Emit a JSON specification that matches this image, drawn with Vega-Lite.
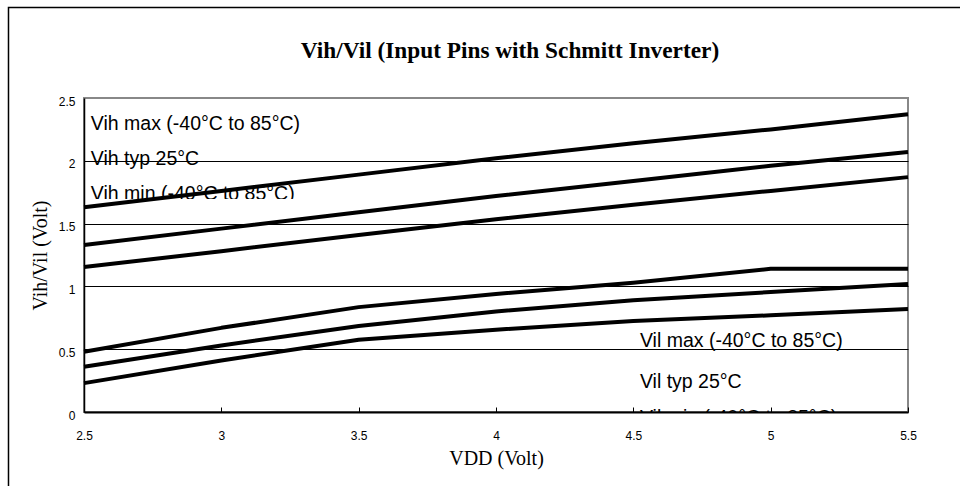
{
  "$schema": "https://vega.github.io/schema/vega-lite/v6.json",
  "autosize": "none",
  "width": 824,
  "height": 314,
  "padding": {"left": 84, "top": 98, "right": 52, "bottom": 74},
  "background": "white",
  "title": {
    "text": "Vih/Vil (Input Pins with Schmitt Inverter)",
    "font": "Liberation Serif",
    "fontSize": 23.3,
    "fontWeight": "bold",
    "color": "black",
    "anchor": "middle",
    "frame": "group",
    "baseline": "alphabetic",
    "dx": 14,
    "dy": 75,
    "offset": 0
  },
  "config": {"view": {"stroke": "#888888", "strokeWidth": 2}},
  "datasets": {
    "curves": [
      {"series": "Vih max", "vdd": 2.5, "v": 1.63},
      {"series": "Vih max", "vdd": 3.0, "v": 1.76},
      {"series": "Vih max", "vdd": 3.5, "v": 1.89},
      {"series": "Vih max", "vdd": 4.0, "v": 2.02},
      {"series": "Vih max", "vdd": 4.5, "v": 2.14},
      {"series": "Vih max", "vdd": 5.0, "v": 2.25},
      {"series": "Vih max", "vdd": 5.5, "v": 2.37},
      {"series": "Vih typ", "vdd": 2.5, "v": 1.33},
      {"series": "Vih typ", "vdd": 3.0, "v": 1.46},
      {"series": "Vih typ", "vdd": 3.5, "v": 1.59},
      {"series": "Vih typ", "vdd": 4.0, "v": 1.72},
      {"series": "Vih typ", "vdd": 4.5, "v": 1.84},
      {"series": "Vih typ", "vdd": 5.0, "v": 1.96},
      {"series": "Vih typ", "vdd": 5.5, "v": 2.07},
      {"series": "Vih min", "vdd": 2.5, "v": 1.155},
      {"series": "Vih min", "vdd": 3.0, "v": 1.28},
      {"series": "Vih min", "vdd": 3.5, "v": 1.41},
      {"series": "Vih min", "vdd": 4.0, "v": 1.535},
      {"series": "Vih min", "vdd": 4.5, "v": 1.65},
      {"series": "Vih min", "vdd": 5.0, "v": 1.76},
      {"series": "Vih min", "vdd": 5.5, "v": 1.87},
      {"series": "Vil max", "vdd": 2.5, "v": 0.48},
      {"series": "Vil max", "vdd": 3.0, "v": 0.67},
      {"series": "Vil max", "vdd": 3.5, "v": 0.835},
      {"series": "Vil max", "vdd": 4.0, "v": 0.94},
      {"series": "Vil max", "vdd": 4.5, "v": 1.03},
      {"series": "Vil max", "vdd": 5.0, "v": 1.14},
      {"series": "Vil max", "vdd": 5.5, "v": 1.14},
      {"series": "Vil typ", "vdd": 2.5, "v": 0.36},
      {"series": "Vil typ", "vdd": 3.0, "v": 0.53},
      {"series": "Vil typ", "vdd": 3.5, "v": 0.685},
      {"series": "Vil typ", "vdd": 4.0, "v": 0.8},
      {"series": "Vil typ", "vdd": 4.5, "v": 0.89},
      {"series": "Vil typ", "vdd": 5.0, "v": 0.955},
      {"series": "Vil typ", "vdd": 5.5, "v": 1.02},
      {"series": "Vil min", "vdd": 2.5, "v": 0.23},
      {"series": "Vil min", "vdd": 3.0, "v": 0.41},
      {"series": "Vil min", "vdd": 3.5, "v": 0.575},
      {"series": "Vil min", "vdd": 4.0, "v": 0.655},
      {"series": "Vil min", "vdd": 4.5, "v": 0.725},
      {"series": "Vil min", "vdd": 5.0, "v": 0.77},
      {"series": "Vil min", "vdd": 5.5, "v": 0.82}
    ],
    "labels": [
      {"label": "Vih max (-40°C to 85°C)", "vdd": 2.525, "v": 2.245},
      {"label": "Vih typ 25°C", "vdd": 2.525, "v": 1.967},
      {"label": "Vih min (-40°C to 85°C)", "vdd": 2.525, "v": 1.688},
      {"label": "Vil max (-40°C to 85°C)", "vdd": 4.524, "v": 0.517},
      {"label": "Vil typ 25°C", "vdd": 4.524, "v": 0.191},
      {"label": "Vil min (-40°C to 85°C)", "vdd": 4.524, "v": -0.0955}
    ],
    "one": [{}]
  },
  "layer": [
    {
      "data": {"name": "labels"},
      "mark": {"type": "text", "align": "left", "baseline": "alphabetic", "font": "Liberation Sans", "fontSize": 19.5, "color": "black", "clip": true},
      "encoding": {
        "x": {"field": "vdd", "type": "quantitative", "scale": {"domain": [2.5, 5.5], "nice": false, "zero": false}},
        "y": {"field": "v", "type": "quantitative", "scale": {"domain": [0, 2.5], "nice": false}},
        "text": {"field": "label"}
      }
    },
    {
      "data": {"name": "one"},
      "mark": {"type": "rect", "fill": "white", "strokeWidth": 0},
      "encoding": {
        "x": {"datum": 2.51, "type": "quantitative"},
        "x2": {"datum": 3.34},
        "y": {"datum": 1.696, "type": "quantitative"},
        "y2": {"datum": 1.6}
      }
    },
    {
      "data": {"name": "curves"},
      "mark": {"type": "line", "color": "black", "strokeWidth": 4, "strokeCap": "butt", "strokeJoin": "round"},
      "encoding": {
        "x": {
          "field": "vdd", "type": "quantitative",
          "scale": {"domain": [2.5, 5.5], "nice": false, "zero": false},
          "axis": {
            "title": "VDD (Volt)",
            "values": [2.5, 3, 3.5, 4, 4.5, 5, 5.5],
            "format": "~g",
            "grid": false,
            "domainColor": "black",
            "domainWidth": 2,
            "ticks": true,
            "tickColor": "black",
            "tickSize": -5,
            "tickWidth": 1,
            "labelFont": "Liberation Sans",
            "labelFontSize": 12,
            "labelColor": "black",
            "labelPadding": 23,
            "labelFlush": false,
            "titleFont": "Liberation Serif",
            "titleFontSize": 20,
            "titleFontWeight": "normal",
            "titleColor": "black",
            "titlePadding": 7
          }
        },
        "y": {
          "field": "v", "type": "quantitative",
          "scale": {"domain": [0, 2.5], "nice": false},
          "axis": {
            "title": "Vih/Vil (Volt)",
            "values": [0, 0.5, 1, 1.5, 2, 2.5],
            "format": "~g",
            "grid": true,
            "gridColor": {"condition": {"test": "datum.value == 2.5 || datum.value == 0", "value": "#888888"}, "value": "black"},
            "gridWidth": 1,
            "domainColor": "black",
            "domainWidth": 1.5,
            "ticks": false,
            "labelFont": "Liberation Sans",
            "labelFontSize": 12,
            "labelColor": "black",
            "labelPadding": 9,
            "labelOffset": 3,
            "labelFlush": false,
            "titleFont": "Liberation Serif",
            "titleFontSize": 20,
            "titleFontWeight": "normal",
            "titleColor": "black",
            "titlePadding": 8
          }
        },
        "detail": {"field": "series"}
      }
    },
    {
      "data": {"name": "one"},
      "mark": {"type": "rect", "filled": false, "stroke": "black", "strokeWidth": 1.5, "clip": false},
      "encoding": {
        "x": {"datum": 2.2251, "type": "quantitative"},
        "x2": {"datum": 6.0},
        "y": {"datum": 3.2206, "type": "quantitative"},
        "y2": {"datum": -1.0}
      }
    }
  ]
}
